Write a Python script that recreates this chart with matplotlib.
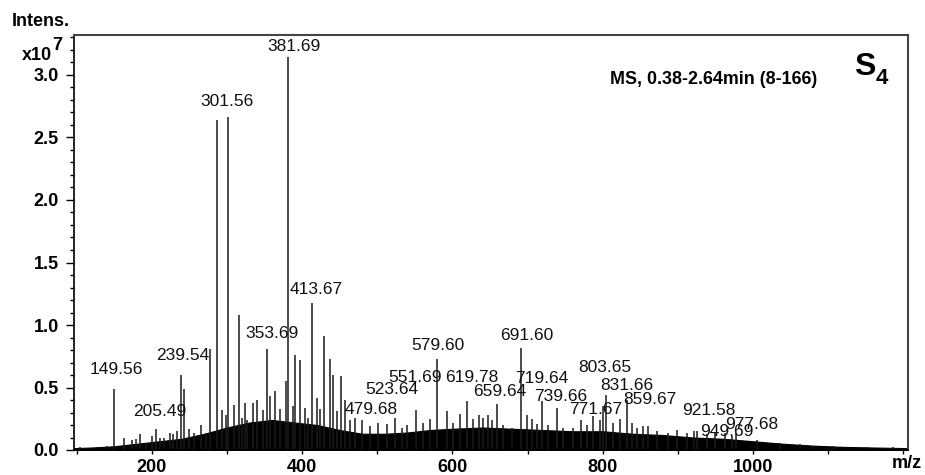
import matplotlib
matplotlib.use("Agg")
import matplotlib.pyplot as plt
from matplotlib.ticker import MultipleLocator, FixedLocator, FormatStrFormatter

plt.rcParams['font.family'] = ['Liberation Sans', 'DejaVu Sans']

# labelled peaks: m/z and intensity (x10^7)
peak_mz = [149.56, 205.49, 239.54, 301.56, 353.69, 381.69, 413.67, 479.68, 523.64,
           551.69, 579.60, 619.78, 659.64, 691.60, 719.64, 739.66, 771.67, 803.65,
           831.66, 859.67, 921.58, 949.69, 977.68]
peak_int = [0.49, 0.17, 0.60, 2.66, 0.81, 3.14, 1.18, 0.24, 0.26,
            0.32, 0.73, 0.39, 0.37, 0.82, 0.39, 0.34, 0.24, 0.44,
            0.40, 0.19, 0.15, 0.14, 0.14]
# where the software put the labels (centre, data units)
label_x = [153.4, 211.0, 241.6, 300.2, 360.0, 389.3, 418.6, 491.8, 519.3,
           550.3, 581.0, 626.2, 663.4, 699.3, 719.3, 744.6, 791.0, 803.0,
           832.4, 863.0, 941.5, 965.4, 998.7]
label_y = [0.64, 0.308, 0.752, 2.788, 0.928, 3.228, 1.28, 0.32, 0.48,
           0.584, 0.84, 0.584, 0.464, 0.92, 0.572, 0.428, 0.32, 0.66,
           0.52, 0.40, 0.316, 0.144, 0.204]

# other (unlabelled) peaks
other_mz = [104.6, 123, 140.5, 163, 174, 178.7, 184.4, 192, 200.4, 211, 216, 224, 228, 233,
            243.5, 249.6, 256, 265, 272, 278, 287, 293.5, 298.5, 309.5, 316, 320, 324, 327,
            335, 340, 348, 357, 364, 371, 378.7, 388, 391, 397, 404, 408, 419.5, 424, 429,
            437, 440.5, 446, 452, 457, 464, 470.5, 490, 501, 512.6, 532.6, 539, 561, 570,
            592.5, 601, 610, 627.6, 635.6, 641, 647.5, 652, 667, 679, 699, 705.6, 712, 727,
            747, 760.5, 778.8, 787, 796.5, 800, 813.7, 823, 838.6, 845, 853.7, 872, 887,
            899, 911.8, 925, 938.4, 962.8, 971.7, 1005, 1036, 1062.6, 1080, 1106.5,
            1151.6, 1186]
other_int = [0.024, 0.02, 0.03, 0.1, 0.08, 0.09, 0.13, 0.06, 0.11, 0.1, 0.1, 0.14, 0.13, 0.15,
             0.49, 0.17, 0.14, 0.2, 0.14, 0.81, 2.64, 0.32, 0.28, 0.36, 1.08, 0.26, 0.38, 0.24,
             0.38, 0.4, 0.32, 0.43, 0.47, 0.33, 0.55, 0.35, 0.76, 0.72, 0.34, 0.26, 0.42, 0.33, 0.91,
             0.73, 0.6, 0.31, 0.59, 0.4, 0.24, 0.26, 0.19, 0.22, 0.21, 0.18, 0.2, 0.22, 0.25,
             0.31, 0.22, 0.29, 0.25, 0.28, 0.26, 0.28, 0.24, 0.2, 0.18, 0.28, 0.25, 0.21, 0.2,
             0.18, 0.18, 0.2, 0.27, 0.24, 0.35, 0.22, 0.25, 0.22, 0.18, 0.19, 0.15, 0.14,
             0.16, 0.14, 0.15, 0.13, 0.14, 0.11, 0.08, 0.06, 0.05, 0.035, 0.03,
             0.022, 0.022]

# dense noise band (upper edge)
noise_mz = [96, 120, 150, 180, 210, 240, 270, 300, 330, 360, 390, 420, 450, 480, 510, 540,
            570, 600, 640, 680, 720, 760, 800, 840, 880, 920, 960, 1000, 1040, 1080,
            1120, 1160, 1206]
noise_int = [0.015, 0.02, 0.03, 0.05, 0.07, 0.09, 0.13, 0.18, 0.22, 0.24, 0.22, 0.2, 0.16,
             0.13, 0.13, 0.14, 0.16, 0.17, 0.18, 0.17, 0.16, 0.15, 0.15, 0.13, 0.12, 0.1,
             0.09, 0.07, 0.05, 0.035, 0.025, 0.02, 0.015]

fig = plt.figure(figsize=(9.25, 4.75), dpi=100)
ax = fig.add_axes([74/925, 25/475, 834/925, 415/475])

ax.fill_between(noise_mz, 0, noise_int, color='black', lw=0.8)
ax.vlines(other_mz, 0, other_int, colors='#1a1a1a', lw=1.1)
ax.vlines(peak_mz, 0, peak_int, colors='#1a1a1a', lw=1.1)

for lab, x, y in zip(peak_mz, label_x, label_y):
    ax.text(x, y, '%.2f' % lab, ha='center', va='center', fontsize=12.5, color='#111111')

ax.set_xlim(96.6, 1206)
ax.set_ylim(0, 3.32)

ax.xaxis.set_major_locator(FixedLocator([200, 400, 600, 800, 1000, 1200]))
ax.set_xticklabels(['200', '400', '600', '800', '1000', ''])
ax.xaxis.set_minor_locator(MultipleLocator(100))
ax.yaxis.set_major_locator(MultipleLocator(0.5))
ax.yaxis.set_major_formatter(FormatStrFormatter('%.1f'))
ax.yaxis.set_minor_locator(MultipleLocator(0.1))

ax.tick_params(axis='y', which='major', length=6, width=1, pad=5, labelsize=13)
ax.tick_params(axis='y', which='minor', length=3, width=1)
ax.tick_params(axis='x', which='both', length=3, width=1, pad=3.5, labelsize=13)
for t in ax.get_xticklabels() + ax.get_yticklabels():
    t.set_fontweight('bold')

for s in ['top', 'right']:
    ax.spines[s].set_color('#444444')
    ax.spines[s].set_linewidth(1.5)
for s in ['left', 'bottom']:
    ax.spines[s].set_color('black')
    ax.spines[s].set_linewidth(1.2)

fig.text(12/925, 1 - 22/475, 'Intens.', fontsize=13, fontweight='bold', va='center', ha='left')
fig.text(22/925, 1 - 55/475, 'x10', fontsize=13, fontweight='bold', va='center', ha='left')
fig.text(52/925, 1 - 46/475, '7', fontsize=13, fontweight='bold', va='center', ha='left')
fig.text(907/925, 1 - 464/475, 'm/z', fontsize=13, fontweight='bold', va='center', ha='center')

fig.text(610/925, 1 - 79.5/475, 'MS, 0.38-2.64min (8-166)', fontsize=12.9, fontweight='bold',
         va='center', ha='left')
fig.text(854/925, 1 - 67/475, 'S', fontsize=23, fontweight='bold', va='center', ha='left')
fig.text(876/925, 1 - 79/475, '4', fontsize=16, fontweight='bold', va='center', ha='left')

fig.savefig('out.png', dpi=100)
